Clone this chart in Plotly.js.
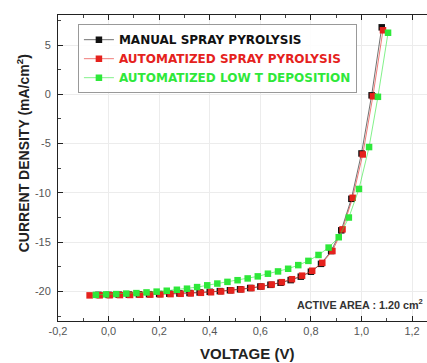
<!DOCTYPE html>
<html>
<head>
<meta charset="utf-8">
<script src="https://cdn.plot.ly/plotly-3.0.1.min.js"></script>
<style>html,body{margin:0;padding:0;background:#fff;}#chart{width:427px;height:363px;}</style>
</head>
<body>
<div id="chart"></div>
<script>
// Voltage (V) and current density (mA/cm²)
var manualV = [-0.04, 0.00, 0.04, 0.08, 0.12, 0.16, 0.20, 0.24, 0.28, 0.32, 0.36, 0.40, 0.44, 0.48, 0.52, 0.56, 0.60, 0.64, 0.68, 0.72, 0.76, 0.80, 0.84, 0.88, 0.92, 0.96, 1.00, 1.04, 1.08];
var manualJ = [-20.35, -20.35, -20.33, -20.32, -20.30, -20.28, -20.26, -20.23, -20.20, -20.16, -20.10, -20.04, -19.97, -19.88, -19.78, -19.65, -19.50, -19.33, -19.12, -18.85, -18.50, -18.00, -17.20, -15.90, -13.80, -10.60, -6.00, -0.10, 6.80];

var autoV = [-0.075, -0.035, 0.005, 0.045, 0.085, 0.125, 0.165, 0.205, 0.245, 0.285, 0.325, 0.365, 0.405, 0.445, 0.485, 0.525, 0.565, 0.605, 0.645, 0.685, 0.725, 0.765, 0.805, 0.845, 0.885, 0.925, 0.965, 1.005, 1.045, 1.085];
var autoJ = [-20.40, -20.39, -20.38, -20.37, -20.36, -20.34, -20.32, -20.30, -20.27, -20.24, -20.20, -20.14, -20.08, -20.00, -19.90, -19.80, -19.66, -19.50, -19.30, -19.06, -18.76, -18.40, -17.90, -17.10, -15.90, -13.70, -10.50, -6.10, -0.20, 6.50];

var lowTV = [-0.05, -0.01, 0.03, 0.07, 0.11, 0.15, 0.19, 0.23, 0.27, 0.31, 0.35, 0.39, 0.43, 0.47, 0.51, 0.55, 0.59, 0.63, 0.67, 0.71, 0.75, 0.79, 0.83, 0.87, 0.91, 0.95, 0.99, 1.03, 1.065, 1.105];
var lowTJ = [-20.35, -20.30, -20.27, -20.22, -20.17, -20.10, -20.02, -19.93, -19.83, -19.72, -19.56, -19.38, -19.20, -19.03, -18.86, -18.68, -18.47, -18.20, -17.97, -17.70, -17.33, -16.90, -16.30, -15.55, -14.50, -12.50, -9.60, -5.35, -0.25, 6.25];

var seriesNames = ["MANUAL SPRAY PYROLYSIS", "AUTOMATIZED SPRAY PYROLYSIS", "AUTOMATIZED LOW T DEPOSITION"];
var seriesColors = ["#111111", "#e5221d", "#2ee83a"];

var xTickVals = [-0.2, 0.0, 0.2, 0.4, 0.6, 0.8, 1.0, 1.2];
var xTickText = ["-0,2", "0,0", "0,2", "0,4", "0,6", "0,8", "1,0", "1,2"];
var yTickVals = [-20, -15, -10, -5, 0, 5];
var yTickText = ["-20", "-15", "-10", "-5", "0", "5"];

var xs = [manualV, autoV, lowTV];
var ys = [manualJ, autoJ, lowTJ];

var traces = xs.map(function (x, i) {
  return {
    x: x, y: ys[i], type: "scatter", mode: "lines+markers",
    name: '<span style="color:' + seriesColors[i] + '">' + seriesNames[i] + '</span>',
    line: {color: seriesColors[i], width: 0.6},
    marker: {symbol: "square", size: 6.5, color: seriesColors[i]}
  };
});

var layout = {
  width: 427, height: 363,
  margin: {l: 58, r: 0, t: 15, b: 42},
  paper_bgcolor: "#ffffff", plot_bgcolor: "#ffffff",
  font: {family: "Liberation Sans, Arial, sans-serif", color: "#444"},
  showlegend: true,
  legend: {
    x: 0.054, y: 0.97, xanchor: "left", yanchor: "top",
    bgcolor: "rgba(255,255,255,0.9)", bordercolor: "#999", borderwidth: 1,
    font: {family: "DejaVu Sans, sans-serif", size: 12, weight: "bold"},
    itemwidth: 30, tracegroupgap: 0
  },
  xaxis: {
    range: [-0.2, 1.259], tickmode: "array", tickvals: xTickVals, ticktext: xTickText,
    ticks: "inside", ticklen: 5, tickcolor: "#222", tickwidth: 1,
    showline: true, linecolor: "#222", linewidth: 1, mirror: "ticks",
    showgrid: true, gridcolor: "#ececec", gridwidth: 1, zeroline: false,
    tickfont: {size: 11, color: "#555"},
    minor: {dtick: 0.1, ticks: "inside", ticklen: 3, tickcolor: "#444", showgrid: false}
  },
  yaxis: {
    range: [-23.0, 8.05], tickmode: "array", tickvals: yTickVals, ticktext: yTickText,
    ticks: "inside", ticklen: 5, tickcolor: "#222", tickwidth: 1,
    showline: true, linecolor: "#222", linewidth: 1, mirror: false,
    showgrid: true, gridcolor: "#ececec", gridwidth: 1, zeroline: false,
    tickfont: {size: 11, color: "#555"}, ticklabelstandoff: 4,
    minor: {dtick: 2.5, ticks: "inside", ticklen: 3, tickcolor: "#444", showgrid: false}
  },
  annotations: [
    {text: "ACTIVE AREA : 1.20 cm<sup>2</sup>", xref: "paper", yref: "y", x: 0.642, y: -21.3,
     xanchor: "left", yanchor: "middle", showarrow: false,
     font: {family: "Liberation Sans, Arial, sans-serif", size: 10.8, weight: "bold", color: "#333"}},
    {text: "VOLTAGE (V)", xref: "paper", yref: "paper", x: 0.512, y: -0.105,
     xanchor: "center", yanchor: "middle", showarrow: false,
     font: {family: "Liberation Sans, Arial, sans-serif", size: 15, weight: "bold", color: "#222"}},
    {text: "CURRENT DENSITY (mA/cm<sup>2</sup>)", xref: "paper", yref: "paper", x: -0.095, y: 0.548,
     xanchor: "center", yanchor: "middle", showarrow: false, textangle: -90,
     font: {family: "Liberation Sans, Arial, sans-serif", size: 14, weight: "bold", color: "#222"}}
  ]
};

Plotly.newPlot("chart", traces, layout, {displayModeBar: false, staticPlot: true});
</script>
</body>
</html>
